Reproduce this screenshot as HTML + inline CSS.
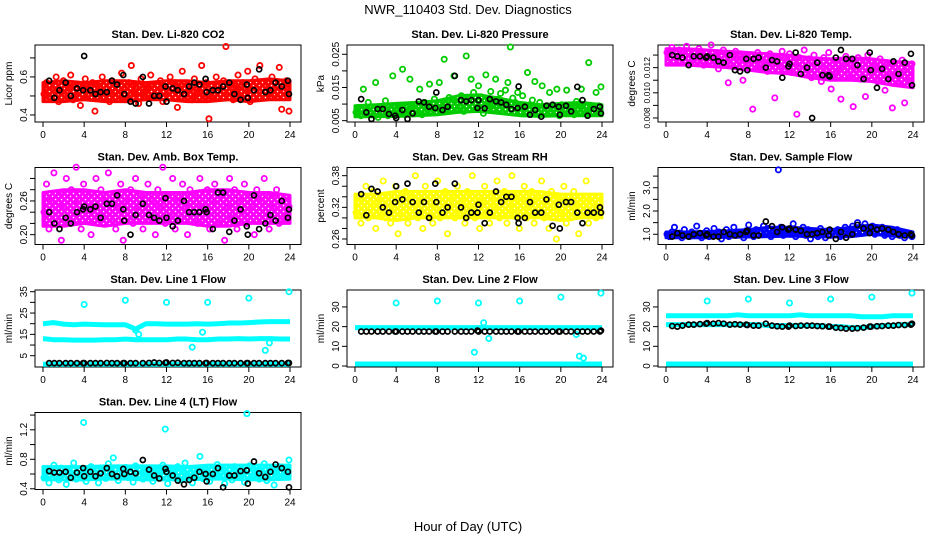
<!DOCTYPE html>
<html><head><meta charset="utf-8"><style>
html,body{margin:0;padding:0;background:#fff}
svg{display:block;font-family:"Liberation Sans",Arial,sans-serif}
</style></head><body>
<svg id="chart" width="936" height="540" viewBox="0 0 936 540" xmlns="http://www.w3.org/2000/svg">
<defs id="defs"></defs>
<text x="468" y="14" text-anchor="middle" font-size="13">NWR_110403  Std. Dev. Diagnostics</text>
<text x="468" y="531" text-anchor="middle" font-size="13">Hour of Day (UTC)</text>
</svg>
<script>
const xTicks=[0,4,8,12,16,20,24];
const blackHours=[0.6,1.1,1.6,2.2,2.7,3.3,3.9,4.0,4.6,5.1,5.6,6.2,6.7,7.2,7.8,7.9,8.5,9.0,9.7,10.3,10.8,11.3,11.9,12.0,12.6,13.1,13.7,14.2,14.7,15.2,15.8,15.9,16.5,17.0,17.5,18.1,18.6,19.2,19.8,19.9,20.5,21.0,21.6,22.1,22.6,23.2,23.8,23.9];
const coreHours=[0,2,4,6,8,10,12,14,16,18,20,22,24];
const co2Lo=[0.47,0.47,0.48,0.47,0.47,0.48,0.48,0.47,0.47,0.48,0.47,0.48,0.48];
const co2Hi=[0.57,0.58,0.57,0.58,0.58,0.57,0.58,0.58,0.57,0.58,0.58,0.59,0.58];
const co2Vals=[0.51,0.57,0.55,0.49,0.53,0.60,0.47,0.52,0.58,0.50,0.54,0.61,0.48,0.56,0.52,0.45,0.55,0.59,0.50,0.53,0.57,0.42,0.51,0.55,0.60,0.49,0.54,0.47,0.58,0.52,0.56,0.50,0.62,0.53,0.48,0.57,0.66,0.51,0.55,0.46,0.59,0.52,0.54,0.49,0.61,0.56,0.50,0.53,0.58,0.47,0.55,0.52,0.60,0.51,0.57,0.44,0.54,0.63,0.50,0.56,0.53,0.48,0.59,0.52,0.55,0.66,0.50,0.57,0.38,0.53,0.49,0.60,0.55,0.51,0.58,0.76,0.52,0.56,0.48,0.54,0.61,0.50,0.57,0.53,0.63,0.47,0.55,0.59,0.51,0.66,0.54,0.49,0.57,0.52,0.60,0.50,0.55,0.65,0.43,0.53,0.58,0.42];
const co2Black=[0.58,0.49,0.53,0.57,0.50,0.54,0.53,0.71,0.53,0.51,0.52,0.52,0.58,0.56,0.61,0.51,0.47,0.46,0.60,0.46,0.50,0.50,0.55,0.47,0.54,0.53,0.51,0.55,0.57,0.56,0.59,0.52,0.53,0.53,0.55,0.57,0.51,0.48,0.56,0.49,0.53,0.64,0.52,0.53,0.57,0.55,0.58,0.51];
const presLo=[0.0062,0.0062,0.0063,0.0065,0.0068,0.0075,0.0078,0.0072,0.0065,0.0063,0.0065,0.0065,0.0065];
const presHi=[0.0095,0.0098,0.0102,0.0105,0.011,0.0125,0.0128,0.0118,0.0105,0.0098,0.0102,0.0105,0.0098];
const presVals=[0.0075,0.009,0.0065,0.0145,0.008,0.0105,0.007,0.0085,0.0165,0.006,0.009,0.0075,0.011,0.0065,0.0085,0.0185,0.007,0.0095,0.0078,0.0205,0.0068,0.0088,0.0175,0.0072,0.0098,0.0082,0.0145,0.0068,0.0105,0.0088,0.016,0.0078,0.0115,0.0092,0.0165,0.0085,0.0235,0.0098,0.012,0.0082,0.0185,0.0105,0.0092,0.0125,0.0078,0.0245,0.0118,0.0175,0.0135,0.0098,0.0155,0.0122,0.0072,0.0188,0.0108,0.0138,0.0095,0.0175,0.0115,0.0132,0.0102,0.0142,0.0165,0.0272,0.0118,0.0105,0.0135,0.0088,0.0125,0.0075,0.0195,0.0098,0.0112,0.0168,0.0085,0.0105,0.0155,0.0078,0.0095,0.0135,0.0072,0.0088,0.0145,0.0065,0.0098,0.0082,0.0142,0.0075,0.0092,0.0068,0.0108,0.0085,0.0145,0.0078,0.0095,0.0225,0.0088,0.0072,0.0135,0.0095,0.0152];
const presBlack=[0.0115,0.0075,0.0055,0.0085,0.0085,0.007,0.0065,0.0058,0.0082,0.0055,0.0072,0.0108,0.0105,0.0092,0.0088,0.0135,0.0082,0.0092,0.0185,0.0112,0.0108,0.0112,0.0088,0.0112,0.0087,0.0115,0.0108,0.0105,0.0098,0.0085,0.0088,0.0153,0.0092,0.0068,0.0082,0.0062,0.0095,0.0098,0.0092,0.0068,0.0095,0.0078,0.0152,0.0112,0.0065,0.0085,0.0092,0.0072];
const tempLo=[0.0122,0.0122,0.0121,0.0120,0.0118,0.0116,0.0115,0.0112,0.0110,0.0110,0.0109,0.0106,0.0104];
const tempHi=[0.0135,0.0135,0.0134,0.0133,0.0132,0.0131,0.0130,0.0128,0.0127,0.0128,0.0127,0.0125,0.0124];
const tempVals=[0.0132,0.0128,0.0136,0.0125,0.0131,0.0134,0.0127,0.0130,0.0137,0.0124,0.0129,0.0133,0.0126,0.0135,0.0130,0.0122,0.0132,0.0128,0.0138,0.0125,0.0131,0.0119,0.0129,0.0134,0.0127,0.0108,0.0130,0.0121,0.0133,0.0126,0.0131,0.0110,0.0128,0.0124,0.0130,0.0087,0.0126,0.0132,0.0120,0.0129,0.0123,0.0117,0.0131,0.0125,0.0096,0.0128,0.0121,0.0133,0.0119,0.0126,0.0131,0.0116,0.0124,0.0083,0.0128,0.0122,0.0134,0.0118,0.0127,0.0112,0.0130,0.0121,0.0125,0.0109,0.0128,0.0119,0.0132,0.0103,0.0123,0.0117,0.0126,0.0095,0.0121,0.0129,0.0114,0.0124,0.0089,0.0119,0.0128,0.0111,0.0123,0.0097,0.0130,0.0116,0.0125,0.0120,0.0109,0.0127,0.0118,0.0102,0.0124,0.0113,0.0088,0.0121,0.0115,0.0107,0.0126,0.0092,0.0119,0.0112,0.0123];
const tempBlack=[0.0130,0.0129,0.0128,0.0122,0.0129,0.0129,0.0128,0.0129,0.0128,0.0125,0.0124,0.0130,0.0118,0.0117,0.0127,0.0118,0.0127,0.0128,0.0120,0.0126,0.0125,0.0112,0.0121,0.0123,0.0132,0.0115,0.0120,0.0080,0.0124,0.0114,0.0114,0.0113,0.0128,0.0134,0.0127,0.0127,0.0122,0.0111,0.0132,0.0118,0.0104,0.0119,0.0111,0.0125,0.0115,0.0124,0.0131,0.0106];
const ambLo=[0.215,0.215,0.22,0.215,0.22,0.22,0.22,0.22,0.215,0.215,0.22,0.22,0.22];
const ambHi=[0.275,0.28,0.28,0.275,0.28,0.275,0.275,0.275,0.28,0.28,0.275,0.275,0.27];
const ambVals=[0.24,0.29,0.21,0.26,0.31,0.23,0.27,0.19,0.25,0.30,0.22,0.28,0.24,0.32,0.26,0.21,0.29,0.23,0.27,0.20,0.25,0.30,0.22,0.28,0.24,0.26,0.31,0.23,0.27,0.21,0.25,0.29,0.19,0.26,0.23,0.28,0.22,0.30,0.25,0.27,0.21,0.24,0.29,0.23,0.26,0.20,0.28,0.25,0.32,0.22,0.27,0.24,0.30,0.21,0.26,0.23,0.29,0.25,0.20,0.28,0.24,0.27,0.22,0.30,0.25,0.23,0.28,0.21,0.26,0.29,0.24,0.22,0.27,0.19,0.25,0.30,0.23,0.28,0.21,0.26,0.24,0.29,0.22,0.27,0.25,0.20,0.28,0.23,0.26,0.30,0.24,0.21,0.27,0.25,0.28,0.22,0.26,0.24,0.23,0.25];
const ambBlack=[0.24,0.22,0.21,0.23,0.22,0.24,0.245,0.25,0.245,0.25,0.23,0.255,0.255,0.27,0.245,0.225,0.20,0.235,0.255,0.235,0.23,0.225,0.265,0.23,0.215,0.225,0.26,0.24,0.24,0.24,0.245,0.24,0.21,0.275,0.275,0.205,0.225,0.245,0.215,0.20,0.27,0.21,0.22,0.235,0.225,0.26,0.23,0.245];
const rhLo=[0.30,0.30,0.295,0.30,0.30,0.30,0.30,0.30,0.30,0.30,0.295,0.30,0.30];
const rhHi=[0.345,0.345,0.35,0.35,0.35,0.35,0.35,0.35,0.35,0.35,0.345,0.345,0.345];
const rhVals=[0.31,0.34,0.29,0.33,0.36,0.30,0.32,0.35,0.28,0.33,0.31,0.37,0.30,0.34,0.29,0.32,0.36,0.27,0.33,0.31,0.35,0.29,0.34,0.32,0.38,0.30,0.33,0.28,0.36,0.31,0.34,0.29,0.32,0.37,0.30,0.33,0.35,0.27,0.32,0.34,0.30,0.36,0.31,0.33,0.29,0.35,0.32,0.38,0.30,0.34,0.28,0.33,0.36,0.31,0.29,0.34,0.32,0.37,0.30,0.33,0.35,0.29,0.32,0.38,0.31,0.34,0.28,0.33,0.36,0.30,0.32,0.35,0.29,0.34,0.31,0.37,0.30,0.33,0.28,0.35,0.32,0.26,0.34,0.31,0.36,0.29,0.33,0.30,0.35,0.32,0.27,0.34,0.31,0.37,0.29,0.33,0.32,0.30,0.34,0.31];
const rhBlack=[0.345,0.305,0.355,0.35,0.32,0.31,0.33,0.36,0.335,0.365,0.33,0.31,0.33,0.30,0.365,0.33,0.31,0.32,0.365,0.32,0.30,0.31,0.31,0.325,0.29,0.31,0.35,0.33,0.34,0.34,0.30,0.29,0.30,0.33,0.31,0.31,0.335,0.285,0.325,0.28,0.33,0.33,0.31,0.29,0.31,0.31,0.32,0.31];
const flowLo=[0.85,0.85,0.85,0.87,0.88,0.9,0.92,0.9,0.88,0.9,1.0,0.92,0.88];
const flowHi=[1.1,1.1,1.12,1.15,1.2,1.3,1.3,1.25,1.2,1.3,1.4,1.3,1.1];
const flowVals=[1.0,0.9,1.1,1.3,0.95,1.05,0.85,1.2,1.0,0.9,1.1,0.95,1.35,1.0,0.85,1.05,1.15,0.9,1.0,1.25,0.95,1.1,0.8,1.0,1.2,0.9,1.05,1.3,0.95,1.1,1.0,0.85,1.15,1.4,1.0,0.9,1.2,0.95,1.1,1.35,1.0,1.25,0.9,1.15,1.05,3.77,1.3,0.95,1.2,1.1,1.0,1.45,0.9,1.15,1.05,1.3,0.95,1.2,0.8,1.1,1.0,0.9,1.25,1.05,0.85,1.15,0.95,1.1,1.0,1.2,0.9,1.05,1.3,1.0,1.15,1.35,1.1,1.5,1.25,1.3,1.45,1.2,1.15,1.35,1.0,1.25,1.1,1.3,0.95,1.15,1.05,0.9,1.1,1.2,0.95,1.0,0.85,1.05,1.0,0.9];
const flowBlack=[0.9,1.05,0.95,0.9,1.0,1.05,0.95,1.0,0.9,0.9,1.1,1.0,0.95,1.0,1.1,1.15,0.95,0.95,1.55,1.35,1.1,1.3,1.2,1.25,1.2,1.15,1.0,1.0,1.05,1.1,0.95,1.2,0.8,1.1,0.85,1.0,1.4,1.25,1.05,1.3,1.2,1.25,1.2,1.1,1.0,0.95,1.0,0.95];
const l4Lo=[0.52,0.52,0.52,0.53,0.53,0.52,0.52,0.52,0.53,0.53,0.52,0.52,0.53];
const l4Hi=[0.7,0.7,0.7,0.71,0.71,0.71,0.71,0.7,0.72,0.72,0.72,0.72,0.72];
const l4Vals=[0.55,0.65,0.48,0.62,0.72,0.58,0.52,0.68,0.6,0.46,0.64,0.57,0.75,0.53,0.66,0.6,1.3,0.5,0.63,0.7,0.56,0.61,0.48,0.67,0.59,0.54,0.74,0.62,0.82,0.57,0.51,0.66,0.6,0.69,0.55,0.63,0.49,0.71,0.58,0.65,0.53,0.62,0.57,0.68,0.5,0.64,0.6,0.55,0.72,1.21,0.47,0.61,0.66,0.58,0.7,0.52,0.63,0.75,0.56,0.6,0.48,0.67,0.62,0.84,0.54,0.69,0.59,0.5,0.65,0.61,0.73,0.56,0.63,0.47,0.58,0.66,0.52,0.7,0.6,0.55,0.64,0.49,1.42,0.71,0.57,0.62,0.68,0.53,0.6,0.74,0.51,0.65,0.58,0.45,0.62,0.7,0.56,0.6,0.67,0.79];
const l4Black=[0.64,0.62,0.62,0.63,0.55,0.62,0.68,0.57,0.63,0.57,0.61,0.68,0.6,0.57,0.67,0.6,0.63,0.61,0.79,0.66,0.58,0.54,0.67,0.63,0.58,0.51,0.46,0.52,0.55,0.63,0.6,0.5,0.6,0.68,0.42,0.58,0.58,0.64,0.65,0.47,0.77,0.61,0.56,0.63,0.73,0.68,0.63,0.42];
const bandHours=[0,1,2,3,4,5,6,7,8,9,10,11,12,13,14,15,16,17,18,19,20,21,22,23,24];
const l1Top=[20,20.5,19.8,19.5,19.8,19.6,19.5,19.5,19.5,17.5,20,20,19.8,19.8,19.8,20,19.8,20,20.3,20.3,20.5,20.8,21,21,21];
const l1Mid=[13,12.5,12.5,12.3,12.3,12.3,12.5,12.5,12.8,12.5,12.5,12.5,12.5,12.8,12.8,12.5,12.5,12.8,12.8,13,12.8,13,13,12.8,12.8];
const l1Low=[1,1,1,1,1,1,1,1,1,1,1,1,1,1,1,1,1,1,1,1,1,1,1,1,1];
const l1Black=[1.5,1.5,1.5,1.5,1.5,1.5,1.5,1.5,1.5,1.5,1.5,1.6,1.5,1.5,1.5,1.5,1.5,1.5,1.5,1.6,1.8,1.6,1.7,1.8,1.6,1.7,1.5,1.5,1.5,1.5,1.5,1.6,1.5,1.5,1.5,1.5,1.5,1.5,1.5,1.5,1.5,1.5,1.5,1.5,1.5,1.5,1.6,1.6];
const l1OutX=[4,8,12,16,20,23.9,14.5,21.6,9,15.5,22,9.3];
const l1OutY=[29,31,30,30,32,35,9,7.5,17,16,11,15];
const l2Top=[19.5,19.5,19.5,19.5,19.5,19.5,19.5,19.5,19.5,19.5,19.5,19.5,19.5,19.5,19.5,19.5,19.5,19.5,19.5,19.5,19.5,19.5,19.5,19.5,19.5];
const l2Low=[1,1,1,1,1,1,1,1,1,1,1,1,1,1,1,1,1,1,1,1,1,1,1,1,1];
const l2Black=[17.5,17.5,17.5,17.5,17.5,17.5,17.5,17.5,17.5,17.5,17.5,17.5,17.5,17.5,17.5,17.5,17.5,17.5,17.5,17.5,17.5,17.5,18,17.5,17.5,17.5,17.5,17.5,17.5,17.5,17.5,17.5,17.5,17.5,17.5,17.5,17.5,17.5,17.5,17.5,17.5,17.5,17.5,17.5,17.5,17.5,17.5,18];
const l2OutX=[4,8,12,16,20,23.9,11.6,13,21.8,22.2,21.5,12.5];
const l2OutY=[32,33,32,33,35,37,7,14,5,4,16,22];
const l3Top=[25.5,25.5,25.5,25.5,25.5,25.5,25.5,26,25.5,25.5,25.5,25.5,25.5,26,25.5,25.5,25.5,25.5,25.5,25,25,25,25.5,25.5,25.5];
const l3Mid=[21,21,21,21,21,21,21,21,21,21,20.5,20.5,20.5,20.5,20.5,20.5,20,20,19.5,19.5,20,20.5,20.5,21,21];
const l3Low=[1,1,1,1,1,1,1,1,1,1,1,1,1,1,1,1,1,1,1,1,1,1,1,1,1];
const l3Black=[20.3,20,20.5,21,21,21.3,21.5,21.8,21.5,21.8,21.5,21,21.2,21,21,20.8,20.5,20.5,21.5,20.5,20.2,20,20,20.5,20.3,20.5,20.5,20.5,20.3,20.2,20,20,19.5,19.3,19,19,19.2,19.5,20,20,20.2,20.3,20.5,20.5,20.8,20.8,21,21.5];
const l3OutX=[4,8,12,16,20,23.9];
const l3OutY=[33,34,32,34,35,37];

const svg=document.getElementById('chart');
const defs=document.getElementById('defs');
const NS='http://www.w3.org/2000/svg';
function mk(tag,attrs,parent){const e=document.createElementNS(NS,tag);for(const k in attrs)e.setAttribute(k,attrs[k]);(parent||svg).appendChild(e);return e;}
const colLeft=[35,347,658], rowTop=[45,167.5,290,412.5], W=266, H=77;
let patId=0;
function speckle(color){
  const id='sp'+(patId++);
  const pt=mk('pattern',{id:id,width:6,height:6,patternUnits:'userSpaceOnUse'},defs);
  mk('rect',{width:6,height:6,fill:color},pt);
  mk('circle',{cx:1.5,cy:1.5,r:0.8,fill:'#fff'},pt);
  mk('circle',{cx:4.5,cy:4.5,r:0.7,fill:'#fff'},pt);
  return 'url(#'+id+')';
}

function panel(p){
  const L=colLeft[p.col], T=rowTop[p.row];
  const g=mk('g',{});
  
  
  const sx=h=>L+8+h/24*247;
  const sy=v=>T+H-(v-p.lo)/(p.hi-p.lo)*H;
  const t=mk('text',{x:L+W/2,y:T-7,'text-anchor':'middle','font-size':'11','font-weight':'bold'},g);
  t.textContent=p.title;
  
  
  const yl=mk('text',{x:0,y:0,'text-anchor':'middle','font-size':'10',transform:`translate(${L-23},${T+H/2}) rotate(-90)`},g);
  yl.textContent=p.ylab;
  
  
  mk('line',{x1:sx(0),x2:sx(24),y1:T+H,y2:T+H,stroke:'#000'},g);
  xTicks.forEach(h=>{
    mk('line',{x1:sx(h),x2:sx(h),y1:T+H,y2:T+H+5,stroke:'#000'},g);
    const tx=mk('text',{x:sx(h),y:T+H+16,'text-anchor':'middle','font-size':'10'},g);
    tx.textContent=h;
    
    
  });
  const yt=p.ticks;
  mk('line',{x1:L,x2:L,y1:sy(yt[0]),y2:sy(yt[yt.length-1]),stroke:'#000'},g);
  yt.forEach((v,i)=>{
    mk('line',{x1:L-5,x2:L,y1:sy(v),y2:sy(v),stroke:'#000'},g);
    if(p.labels[i]){
      const ty=mk('text',{x:0,y:0,'text-anchor':'middle','font-size':p.lfs||'10',transform:`translate(${L-8},${sy(v)}) rotate(-90)`},g);
      ty.textContent=p.labels[i];
      
      
    }
  });
  mk('rect',{x:L,y:T,width:W,height:H,fill:'none',stroke:'#000'},g);
  const inner=mk('g',{},g);
  if(p.coreLo){
    const up=coreHours.map((h,i)=>sx(h)+','+sy(p.coreHi[i]));
    const dn=coreHours.map((h,i)=>sx(h)+','+sy(p.coreLo[i])).reverse();
    const pg=mk('polygon',{points:up.concat(dn).join(' '),fill:speckle(p.color),stroke:p.color,'stroke-width':3,'stroke-linejoin':'round'},inner);
    
    
  }
  (p.bands||[]).forEach(b=>{
    const pts=bandHours.map((h,i)=>sx(h)+','+sy(b[i])).join(' ');
    const pl=mk('polyline',{points:pts,fill:'none',stroke:p.color,'stroke-width':5,'stroke-linejoin':'round'},inner);
    
    
  });
  if(p.vals){
    const n=p.vals.length;
    p.vals.forEach((v,i)=>{
      const c=mk('circle',{cx:sx(0.1+i*23.8/(n-1)),cy:sy(v),r:2.6,fill:'none',stroke:p.color,'stroke-width':1.8},inner);
      
      
    });
  }
  (p.outX||[]).forEach((h,i)=>{
    const c=mk('circle',{cx:sx(h),cy:sy(p.outY[i]),r:2.6,fill:'none',stroke:p.color,'stroke-width':1.8},inner);
    
    
  });
  p.black.forEach((v,i)=>{
    const c=mk('circle',{cx:sx(blackHours[i]),cy:sy(v),r:2.5,fill:'none',stroke:'#000','stroke-width':1.7},inner);
    
    
  });
}
panel({name:'co2-panel',col:0,row:0,title:'Stan. Dev. Li-820 CO2',ylab:'Licor ppm',lo:0.363,hi:0.768,ticks:[0.4,0.5,0.6,0.7],labels:['0.4','','0.6',''],color:'#ff0000',coreLo:co2Lo,coreHi:co2Hi,vals:co2Vals,black:co2Black});
panel({name:'pressure-panel',col:1,row:0,title:'Stan. Dev. Li-820 Pressure',ylab:'kPa',lo:0.0046,hi:0.0278,ticks:[0.005,0.01,0.015,0.02,0.025],labels:['0.005','','0.015','','0.025'],color:'#00cc00',coreLo:presLo,coreHi:presHi,vals:presVals,black:presBlack});
panel({name:'li820-temp-panel',col:2,row:0,title:'Stan. Dev. Li-820 Temp.',ylab:'degrees C',lo:0.00768,hi:0.0138,ticks:[0.008,0.009,0.010,0.011,0.012,0.013],labels:['0.008','','0.010','','0.012',''],lfs:'8.5',color:'#ff00ff',coreLo:tempLo,coreHi:tempHi,vals:tempVals,black:tempBlack});
panel({name:'amb-box-temp-panel',col:0,row:1,title:'Stan. Dev. Amb. Box Temp.',ylab:'degrees C',lo:0.1825,hi:0.3195,ticks:[0.20,0.22,0.24,0.26,0.28,0.30],labels:['0.20','','','0.26','',''],color:'#ff00ff',coreLo:ambLo,coreHi:ambHi,vals:ambVals,black:ambBlack});
panel({name:'rh-panel',col:1,row:1,title:'Stan. Dev. Gas Stream RH',ylab:'percent',lo:0.2496,hi:0.3955,ticks:[0.26,0.28,0.30,0.32,0.34,0.36,0.38],labels:['0.26','','','0.32','','','0.38'],color:'#ffff00',coreLo:rhLo,coreHi:rhHi,vals:rhVals,black:rhBlack});
panel({name:'sample-flow-panel',col:2,row:1,title:'Stan. Dev. Sample Flow',ylab:'ml/min',lo:0.56,hi:3.87,ticks:[1.0,1.5,2.0,2.5,3.0,3.5],labels:['1.0','','2.0','','3.0',''],color:'#0000ff',coreLo:flowLo,coreHi:flowHi,vals:flowVals,black:flowBlack});
panel({name:'line1-flow-panel',col:0,row:2,title:'Stan. Dev. Line 1 Flow',ylab:'ml/min',lo:-0.3,hi:35.8,ticks:[5,10,15,20,25,30,35],labels:['5','','15','','25','','35'],color:'#00ffff',bands:[l1Top,l1Mid,l1Low],outX:l1OutX,outY:l1OutY,black:l1Black});
panel({name:'line2-flow-panel',col:1,row:2,title:'Stan. Dev. Line 2 Flow',ylab:'ml/min',lo:-0.5,hi:38.6,ticks:[0,10,20,30],labels:['0','10','20','30'],color:'#00ffff',bands:[l2Top,l2Low],outX:l2OutX,outY:l2OutY,black:l2Black});
panel({name:'line3-flow-panel',col:2,row:2,title:'Stan. Dev. Line 3 Flow',ylab:'ml/min',lo:-0.5,hi:38.6,ticks:[0,10,20,30],labels:['0','10','20','30'],color:'#00ffff',bands:[l3Top,l3Mid,l3Low],outX:l3OutX,outY:l3OutY,black:l3Black});
panel({name:'line4-flow-panel',col:0,row:3,title:'Stan. Dev. Line 4 (LT) Flow',ylab:'ml/min',lo:0.39,hi:1.435,ticks:[0.4,0.6,0.8,1.0,1.2,1.4],labels:['0.4','','0.8','','1.2',''],color:'#00ffff',coreLo:l4Lo,coreHi:l4Hi,vals:l4Vals,black:l4Black});
</script>
</body></html>
